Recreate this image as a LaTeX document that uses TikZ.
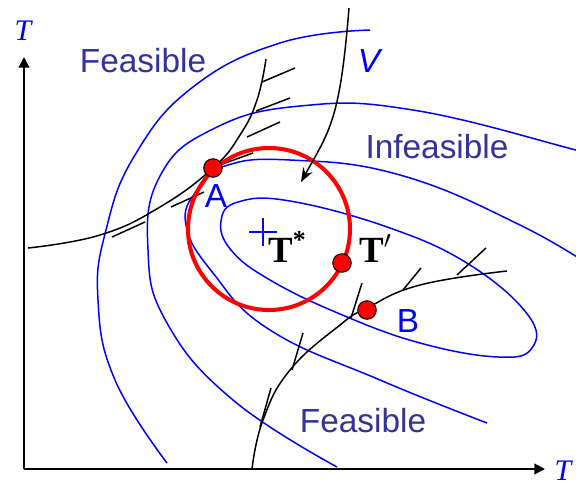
\documentclass[tikz,border=0pt]{standalone}
\usepackage{fontspec}
\newfontfamily\labelfont{Liberation Sans}
\newfontfamily\timesfont{Liberation Serif}
\usetikzlibrary{arrows.meta}
\definecolor{gebietblau}{RGB}{51,51,153}
\tikzset{
	kurve/.style = {blue, line width=0.85pt},
	grenze/.style = {black, line width=0.85pt},
	achse/.style = {line width=1.1pt, -{Triangle[length=6pt, width=6pt]}}
}

\begin{document}
\begin{tikzpicture}[
			x=0.02cm, y=-0.02cm,
			gebiet/.style={text=gebietblau, font=\labelfont\fontsize{19}{22}\selectfont, anchor=base, inner sep=0pt},
			punktname/.style={gebiet, text=blue},
			punkt/.style={circle, draw=black, fill=red, line width=0.6pt, minimum size=0.37cm, inner sep=0pt},
			achsname/.style={text=blue, font=\timesfont\itshape\fontsize{17}{20}\selectfont, anchor=base, inner sep=0pt},
			wert/.style={font=\timesfont\bfseries\fontsize{21}{24}\selectfont, anchor=base west, inner sep=0pt}
			]
			\useasboundingbox (0,0) rectangle (576,485);
			
			% Achsen
			\coordinate (O) at (24,469);
			\coordinate (Yend) at (24,57);
			\coordinate (Xend) at (545,469);
			\draw[achse] (O) -- (Yend);
			\draw[achse] (O) -- (Xend);
			\node[achsname] (Ty) at (23,40) {T};
			\node[achsname] (Tx) at (563,480) {T};
			
			% Hoehenlinien
			\draw[kurve] plot[smooth, tension=0.75] coordinates {(167,463) (115,380) (98,300) (106,230) (135,155) (193,87) (280,43) (370,30)};
			\draw[kurve] plot[smooth, tension=0.75] coordinates {(337,467) (233,400) (167,323) (148,250) (160,176) (213,129) (300,106) (413,110) (576,150) (600,157)};
			\draw[kurve] plot[smooth, tension=0.75] coordinates {(487,423) (380,380) (270,330) (213,273) (186,225) (197,190) (225,166) (290,160) (400,175) (520,225) (600,272)};
			\draw[kurve] plot[smooth cycle, tension=0.7] coordinates {(221,221) (238,202) (290,201) (390,228) (470,265) (528,315) (532,348) (498,357) (420,343) (340,314) (270,280) (231,250)};
			
			% Nebenbedingungen
			\draw[grenze] plot[smooth, tension=0.75] coordinates {(28,248) (100,235) (160,207) (213,168) (240,135) (257,100) (266,59)};
			\draw[grenze] (262,82) -- (295,68) (256,111) -- (290,98) (247,137) -- (280,122)
				(217,166) -- (253,153) (171,207) -- (204,192) (112,237) -- (145,222);
			\draw[grenze] plot[smooth, tension=0.75] coordinates {(252,469) (263,420) (290,370) (340,325) (367,308) (420,285) (507,271)};
			\draw[grenze] (486,248) -- (457,275) (421,268) -- (403,290) (362,283) -- (351,318)
				(303,333) -- (292,370) (271,388) -- (260,427);
			
			% Vertrauensbereich
			\coordinate (M) at (269,229);
			\draw[red, line width=2.3pt] (M) circle [radius=81];
			\draw[blue, line width=0.7pt] (263,232) ++(-14,0) -- ++(28,0) (263,232) ++(0,-14) -- ++(0,28);
			
			% Punkte
			\node[punkt] (A) at (213,168) {};
			\node[punkt] (Tp) at (342,263) {};
			\node[punkt] (B) at (367,310) {};
			\node[punktname] (Aname) at (216,207) {A};
			\node[punktname] (Bname) at (408,332) {B};
			\node[wert] (Tstern) at (268,262) {T\textsuperscript{*}};
			\node[wert] (Tstrich) at (359,262) {T$'$};
			
			% Beschriftungen
			\node[gebiet] (F1) at (143,72) {Feasible};
			\node[gebiet] (IF) at (437,158) {Infeasible};
			\node[gebiet] (F2) at (363,432) {Feasible};
			\node[punktname, font=\labelfont\itshape\fontsize{19}{22}\selectfont] (V) at (369,72) {V};
			
			% Pfeil
			\coordinate (Vstart) at (349,8);
			\coordinate (Vend) at (301,182);
			\draw[grenze, -{Stealth[length=8pt, width=6pt]}] (Vstart) .. controls (340,120) and (330,130) .. (Vend);
		\end{tikzpicture}
\end{document}
